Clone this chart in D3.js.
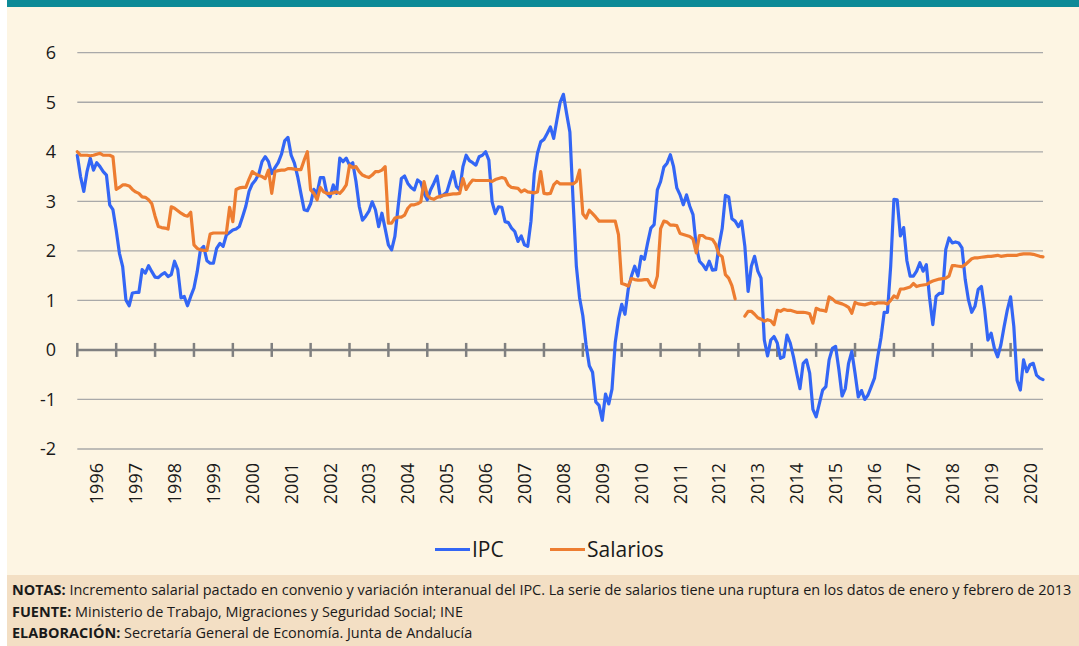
<!DOCTYPE html>
<html>
<head>
<meta charset="utf-8">
<script src="https://cdn.jsdelivr.net/npm/d3@7"></script>
<style>
	body { margin: 0; background: #ffffff; }
	svg { display: block; font-family: "Open Sans", "Noto Sans", sans-serif; }
</style>
</head>
<body>
<svg id="chart" width="1079" height="646"></svg>
<script>
// one label per year on the category axis
let years = d3.range(1996, 2021);
let yTicks = [-2, -1, 0, 1, 2, 3, 4, 5, 6];

// IPC, variación interanual (%), monthly, ene 1996 - nov 2020
let ipc = [
	3.93, 3.5, 3.2, 3.6, 3.87, 3.63, 3.78, 3.7, 3.6, 3.53, 2.93, 2.83, // 1996
	2.42, 1.95, 1.68, 1.01, 0.89, 1.15, 1.16, 1.16, 1.62, 1.55, 1.7, 1.58, // 1997
	1.47, 1.46, 1.52, 1.56, 1.48, 1.52, 1.79, 1.62, 1.05, 1.08, 0.89, 1.08, // 1998
	1.25, 1.58, 2.02, 2.09, 1.8, 1.75, 1.75, 2.05, 2.15, 2.09, 2.32, 2.37, // 1999
	2.42, 2.44, 2.49, 2.69, 2.9, 3.2, 3.35, 3.43, 3.55, 3.8, 3.9, 3.8, // 2000
	3.56, 3.68, 3.78, 3.95, 4.22, 4.29, 3.93, 3.77, 3.5, 3.16, 2.83, 2.81, // 2001
	2.95, 3.24, 3.16, 3.48, 3.48, 3.16, 3.09, 3.33, 3.16, 3.87, 3.8, 3.87, // 2002
	3.73, 3.78, 3.4, 2.9, 2.62, 2.7, 2.8, 2.99, 2.83, 2.49, 2.76, 2.45, // 2003
	2.12, 2.02, 2.29, 2.89, 3.46, 3.51, 3.36, 3.28, 3.23, 3.43, 3.38, 3.16, // 2004
	3.03, 3.23, 3.36, 3.51, 3.09, 3.13, 3.18, 3.4, 3.6, 3.3, 3.23, 3.7, // 2005
	3.93, 3.82, 3.78, 3.73, 3.9, 3.93, 4.0, 3.83, 2.99, 2.75, 2.89, 2.88, // 2006
	2.59, 2.57, 2.46, 2.39, 2.19, 2.3, 2.12, 2.09, 2.6, 3.55, 3.97, 4.2, // 2007
	4.25, 4.37, 4.5, 4.27, 4.64, 5.0, 5.16, 4.77, 4.4, 3.0, 1.69, 1.05, // 2008
	0.69, 0.1, -0.32, -0.45, -1.05, -1.12, -1.42, -0.89, -1.09, -0.79, 0.15, 0.62, // 2009
	0.92, 0.72, 1.22, 1.49, 1.69, 1.49, 1.89, 1.83, 2.16, 2.46, 2.53, 3.23, // 2010
	3.4, 3.69, 3.77, 3.94, 3.7, 3.27, 3.13, 2.93, 3.13, 2.9, 2.73, 2.09, // 2011
	1.79, 1.72, 1.62, 1.79, 1.61, 1.62, 2.1, 2.45, 3.12, 3.09, 2.65, 2.6, // 2012
	2.49, 2.6, 2.09, 1.18, 1.69, 1.89, 1.59, 1.45, 0.2, -0.12, 0.2, 0.27, // 2013
	0.14, -0.17, -0.14, 0.3, 0.14, -0.14, -0.47, -0.78, -0.27, -0.2, -0.47, -1.2, // 2014
	-1.35, -1.08, -0.81, -0.74, -0.2, 0.03, 0.07, -0.39, -0.93, -0.78, -0.27, -0.03, // 2015
	-0.47, -0.95, -0.82, -1.0, -0.91, -0.74, -0.57, -0.14, 0.24, 0.76, 0.76, 1.69, // 2016
	3.04, 3.03, 2.3, 2.47, 1.8, 1.49, 1.49, 1.59, 1.76, 1.59, 1.72, 1.05, // 2017
	0.51, 1.08, 1.14, 1.14, 2.03, 2.26, 2.16, 2.18, 2.16, 2.06, 1.42, 1.01, // 2018
	0.76, 0.88, 1.22, 1.28, 0.81, 0.2, 0.34, 0.03, -0.14, 0.1, 0.47, 0.81, // 2019
	1.07, 0.47, -0.61, -0.81, -0.2, -0.44, -0.3, -0.27, -0.51, -0.57, -0.6 // 2020
];

// incremento salarial pactado (%), same months; null = ruptura ene-feb 2013
let salarios = [
	4.0, 3.93, 3.93, 3.93, 3.92, 3.93, 3.95, 3.97, 3.93, 3.93, 3.93, 3.9, // 1996
	3.24, 3.28, 3.33, 3.33, 3.31, 3.24, 3.19, 3.16, 3.09, 3.08, 3.03, 2.95, // 1997
	2.7, 2.49, 2.47, 2.46, 2.44, 2.89, 2.86, 2.81, 2.76, 2.72, 2.7, 2.78, // 1998
	2.12, 2.05, 2.02, 2.01, 2.01, 2.34, 2.36, 2.36, 2.36, 2.36, 2.36, 2.88, // 1999
	2.59, 3.24, 3.27, 3.28, 3.28, 3.45, 3.6, 3.55, 3.52, 3.5, 3.46, 3.63, // 2000
	3.16, 3.6, 3.62, 3.63, 3.63, 3.66, 3.66, 3.65, 3.64, 3.64, 3.83, 4.0, // 2001
	3.23, 3.16, 3.03, 3.28, 3.19, 3.16, 3.16, 3.17, 3.19, 3.16, 3.23, 3.33, // 2002
	3.73, 3.68, 3.7, 3.6, 3.53, 3.5, 3.48, 3.53, 3.6, 3.6, 3.63, 3.7, // 2003
	2.56, 2.56, 2.66, 2.68, 2.68, 2.72, 2.86, 2.93, 2.93, 2.95, 2.99, 3.4, // 2004
	3.12, 3.06, 3.04, 3.08, 3.1, 3.12, 3.13, 3.14, 3.15, 3.15, 3.16, 3.46, // 2005
	3.24, 3.35, 3.43, 3.42, 3.42, 3.42, 3.42, 3.42, 3.4, 3.44, 3.46, 3.48, // 2006
	3.46, 3.33, 3.28, 3.27, 3.26, 3.19, 3.23, 3.19, 3.18, 3.17, 3.19, 3.6, // 2007
	3.16, 3.15, 3.16, 3.33, 3.4, 3.35, 3.35, 3.35, 3.35, 3.35, 3.4, 3.63, // 2008
	2.75, 2.66, 2.82, 2.75, 2.68, 2.6, 2.6, 2.6, 2.6, 2.6, 2.6, 2.33, // 2009
	1.34, 1.32, 1.29, 1.44, 1.42, 1.41, 1.41, 1.42, 1.42, 1.3, 1.26, 1.49, // 2010
	2.45, 2.6, 2.58, 2.52, 2.52, 2.51, 2.35, 2.33, 2.31, 2.29, 2.24, 1.96, // 2011
	2.31, 2.31, 2.26, 2.25, 2.23, 2.13, 1.93, 1.88, 1.52, 1.45, 1.3, 1.03, // 2012
	null, null, 0.68, 0.78, 0.78, 0.72, 0.65, 0.62, 0.58, 0.61, 0.59, 0.51, // 2013
	0.8, 0.78, 0.82, 0.8, 0.8, 0.78, 0.76, 0.76, 0.76, 0.75, 0.73, 0.54, // 2014
	0.84, 0.81, 0.8, 0.78, 1.07, 1.03, 0.97, 0.95, 0.93, 0.9, 0.86, 0.74, // 2015
	0.96, 0.93, 0.92, 0.91, 0.93, 0.95, 0.93, 0.95, 0.95, 0.95, 0.93, 1.0, // 2016
	1.09, 1.05, 1.23, 1.23, 1.25, 1.27, 1.34, 1.28, 1.3, 1.31, 1.32, 1.36, // 2017
	1.39, 1.41, 1.43, 1.44, 1.45, 1.49, 1.7, 1.7, 1.69, 1.68, 1.72, 1.78, // 2018
	1.84, 1.86, 1.86, 1.87, 1.88, 1.89, 1.89, 1.9, 1.91, 1.89, 1.9, 1.91, // 2019
	1.91, 1.91, 1.91, 1.93, 1.94, 1.94, 1.94, 1.93, 1.91, 1.89, 1.88 // 2020
];

let seriesNames = ["IPC", "Salarios"];
let seriesColors = ["#3366f5", "#ed7d31"];

let notas = [
	["NOTAS:", " Incremento salarial pactado en convenio y variación interanual del IPC. La serie de salarios tiene una ruptura en los datos de enero y febrero de 2013"],
	["FUENTE:", " Ministerio de Trabajo, Migraciones y Seguridad Social; INE"],
	["ELABORACIÓN:", " Secretaría General de Economía. Junta de Andalucía"]
];

const size = { w: 1079, h: 646 };
const plot = { left: 77.3, right: 1043, top: 52.7, bottom: 449 };

let svg = d3.select("#chart");

// panel backgrounds
svg.append("rect").attr("x", 7).attr("y", 0).attr("width", size.w - 7).attr("height", 575).attr("fill", "#fdf5e3");
svg.append("rect").attr("x", 7).attr("y", 0).attr("width", size.w - 7).attr("height", 7).attr("fill", "#0d8a97");
svg.append("rect").attr("x", 7).attr("y", 575).attr("width", size.w - 7).attr("height", 71).attr("fill", "#f3dfc4");

let x = d3.scaleLinear().domain([0, ipc.length - 1]).range([plot.left, plot.right]);
let y = d3.scaleLinear().domain([-2, 6]).range([plot.bottom, plot.top]);

// gridlines (zero line drawn later as the axis)
svg.append("g")
	.selectAll("line")
	.data(yTicks.filter((d) => d !== 0))
	.join("line")
	.attr("x1", plot.left)
	.attr("x2", plot.right)
	.attr("y1", (d) => y(d))
	.attr("y2", (d) => y(d))
	.attr("stroke", "#a9a9a9")
	.attr("stroke-width", 1.3);

// y labels, plain hyphen for negatives like the original
let yAxis = svg.append("g")
	.attr("transform", `translate(56,0)`)
	.call(d3.axisLeft(y).tickValues(yTicks).tickSize(0).tickPadding(0).tickFormat((d) => String(d)));
yAxis.select(".domain").remove();
yAxis.selectAll("text")
	.attr("font-family", "Open Sans, sans-serif")
	.attr("font-size", 18)
	.attr("fill", "#1a1a1a");

// zero axis with year ticks
let zeroY = y(0);
svg.append("line")
	.attr("x1", plot.left)
	.attr("x2", plot.right)
	.attr("y1", zeroY)
	.attr("y2", zeroY)
	.attr("stroke", "#808080")
	.attr("stroke-width", 2.5);

svg.append("g")
	.selectAll("line")
	.data(years)
	.join("line")
	.attr("x1", (d, i) => x(i * 12))
	.attr("x2", (d, i) => x(i * 12))
	.attr("y1", zeroY - 7)
	.attr("y2", zeroY + 7)
	.attr("stroke", "#808080")
	.attr("stroke-width", 2.5);

// year labels, rotated
svg.append("g")
	.selectAll("text")
	.data(years)
	.join("text")
	.attr("transform", (d, i) => `translate(${x(i * 12 + 6)}, 463) rotate(-90)`)
	.attr("text-anchor", "end")
	.attr("dy", "0.36em")
	.attr("font-size", 18)
	.attr("fill", "#1a1a1a")
	.text((d) => d);

// lines
let lineFn = d3.line()
	.defined((d) => d != null)
	.x((d, i) => x(i))
	.y((d) => y(d));

svg.append("g")
	.selectAll("path")
	.data([ipc, salarios])
	.join("path")
	.attr("d", (d) => lineFn(d))
	.attr("fill", "none")
	.attr("stroke", (d, i) => seriesColors[i])
	.attr("stroke-width", 3.2)
	.attr("stroke-linejoin", "round")
	.attr("stroke-linecap", "round");

// legend
let legendX = [435, 550];
let legendG = svg.append("g")
	.selectAll("g")
	.data(seriesNames)
	.join("g")
	.attr("transform", (d, i) => `translate(${legendX[i]}, 549.5)`);
legendG.append("line")
	.attr("x1", 0)
	.attr("x2", 35)
	.attr("stroke", (d, i) => seriesColors[i])
	.attr("stroke-width", 3);
legendG.append("text")
	.attr("x", 37)
	.attr("dy", "0.36em")
	.attr("font-size", 21)
	.attr("fill", "#1a1a1a")
	.text((d) => d);

// notes box
let noteText = svg.append("g")
	.selectAll("text")
	.data(notas)
	.join("text")
	.attr("font-family", "Open Sans, sans-serif")
	.attr("font-size", 14.5)
	.attr("fill", "#1a1a1a");
noteText.append("tspan").attr("font-weight", "bold").text((d) => d[0]);
noteText.append("tspan").text((d) => d[1]);

// squeeze to the condensed look of the original, first line fills the box
let firstW = noteText.node().getComputedTextLength();
let sx = 1060 / firstW;
let baselines = [595, 616.5, 638];
noteText.attr("transform", (d, i) => `translate(12, ${baselines[i]}) scale(${sx}, 1)`);
</script>
</body>
</html>
